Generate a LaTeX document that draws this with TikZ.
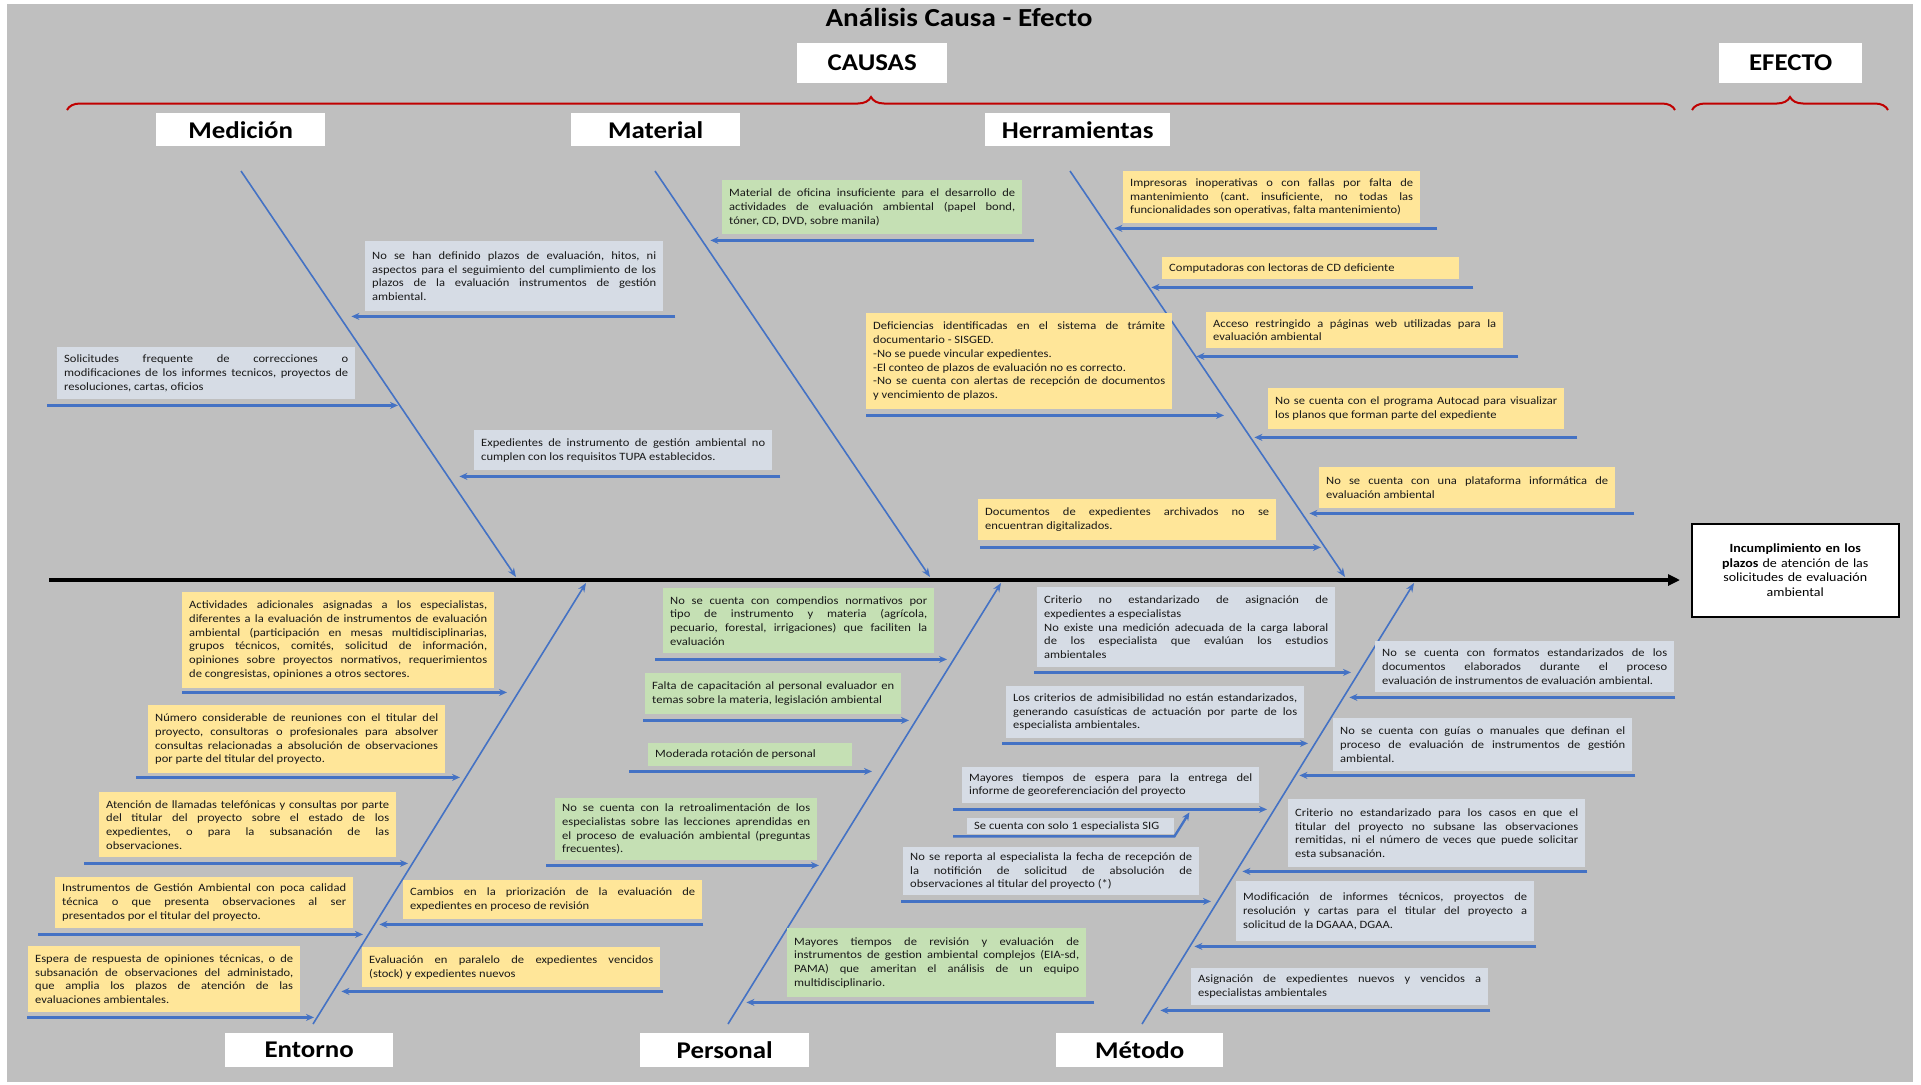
\documentclass[tikz,border=0pt]{standalone}
\usepackage{fontspec}
\setmainfont{Carlito}[FakeStretch=1.12]
\usetikzlibrary{arrows.meta,decorations.pathreplacing}

\definecolor{bggray}{RGB}{191,191,191}
\definecolor{boxyellow}{RGB}{255,230,153}
\definecolor{boxgreen}{RGB}{197,224,180}
\definecolor{boxblue}{RGB}{214,220,229}
\definecolor{boneblue}{RGB}{68,114,196}
\definecolor{bracered}{RGB}{192,0,0}

\frenchspacing
\newcommand\causefont{\fontsize{11.2}{13.7}\selectfont\hyphenpenalty=10000\exhyphenpenalty=10000\tolerance=10000}

\begin{document}
\begin{tikzpicture}[x=1pt, y=-1pt,
    cause/.style={anchor=north west, inner xsep=7pt, inner ysep=3pt, align=justify, font=\causefont, text=black!90},
    ycause/.style={cause, fill=boxyellow},
    gcause/.style={cause, fill=boxgreen},
    bcause/.style={cause, fill=boxblue},
    catlabel/.style={anchor=north west, fill=white, inner sep=0pt, font=\bfseries\fontsize{24}{28}\selectfont},
    bone/.style={draw=boneblue, line width=1.6pt, -{Stealth[length=9pt,width=7pt]}},
    branch/.style={draw=boneblue, line width=2.4pt, -{Stealth[length=8pt,width=7pt]}},
    spine/.style={draw=black, line width=3.5pt, -{Triangle[length=12pt,width=11pt]}},
    redbrace/.style={draw=bracered, line width=2pt, decorate, decoration={brace, amplitude=13pt}}]

    \useasboundingbox (0,0) rectangle (1921,1084);
    \fill[bggray] (7,4) rectangle (1913,1082);

    % titles and braces
    \node[font=\bfseries\fontsize{26}{30}\selectfont] (titulo) at (959,17) {Análisis Causa - Efecto};
    \node[catlabel, minimum width=150pt, minimum height=40pt] (causas) at (797,43) {CAUSAS};
    \node[catlabel, minimum width=143pt, minimum height=40pt] (efectolbl) at (1719,43) {EFECTO};
    \draw[redbrace] (67,110) -- (1675,110);
    \draw[redbrace] (1692,110) -- (1888,110);

    \node[catlabel, minimum width=169pt, minimum height=33pt] (medicion) at (156,113) {Medición};
    \node[catlabel, minimum width=169pt, minimum height=33pt] (material) at (571,113) {Material};
    \node[catlabel, minimum width=185pt, minimum height=33pt] (herram) at (985,113) {Herramientas};
    \node[catlabel, minimum width=168pt, minimum height=34pt] (entorno) at (225,1033) {Entorno};
    \node[catlabel, minimum width=169pt, minimum height=34pt] (personal) at (640,1033) {Personal};
    \node[catlabel, minimum width=167pt, minimum height=34pt] (metodo) at (1056,1033) {Método};

    % effect and spine
    \node[anchor=north west, draw=black, line width=1.5pt, fill=white, minimum width=207pt, minimum height=93pt,
          text width=190pt, align=center, font=\fontsize{12.5}{14.7}\selectfont] (efecto) at (1691,523)
          {\textbf{Incumplimiento en los}\\ \textbf{plazos} de atención de las\\ solicitudes de evaluación\\ ambiental};
    \coordinate (cola) at (49,580);
    \draw[spine] (cola) -- ([xshift=-11pt]cola -| efecto.west);

    % bones
    \coordinate (medA) at (241,171);  \coordinate (medB) at (516,577);
    \coordinate (matA) at (655,171);  \coordinate (matB) at (930,577);
    \coordinate (herA) at (1070,171); \coordinate (herB) at (1345,577);
    \coordinate (entA) at (313,1024); \coordinate (entB) at (586,583);
    \coordinate (perA) at (728,1024); \coordinate (perB) at (1001,583);
    \coordinate (metA) at (1142,1024); \coordinate (metB) at (1414,583);
    \foreach \a/\b in {medA/medB, matA/matB, herA/herB, entA/entB, perA/perB, metA/metB}
        \draw[bone] (\a) -- (\b);

    % Medicion
    \node[bcause, text width=284pt, minimum height=70pt] (m1) at (365,241) {No se han definido plazos de evaluación, hitos, ni\linebreak aspectos para el seguimiento del cumplimiento de los\linebreak plazos de la evaluación instrumentos de gestión\linebreak ambiental.};
    \node[bcause, text width=284pt, minimum height=52pt] (m2) at (57,347) {Solicitudes frequente de correcciones o\linebreak modificaciones de los informes tecnicos, proyectos de\linebreak resoluciones, cartas, oficios};
    \node[bcause, text width=284pt, minimum height=40pt] (m3) at (474,430) {Expedientes de instrumento de gestión ambiental no\linebreak cumplen con los requisitos TUPA establecidos.};
    \draw[branch] ([shift={(12,5)}]m1.south east) -- ++(-324,0);
    \draw[branch] ([shift={(-10,6)}]m2.south west) -- ++(351,0);
    \draw[branch] ([shift={(8,6)}]m3.south east) -- ++(-321,0);

    % Material
    \node[gcause, text width=286pt, minimum height=54pt] (t1) at (722,180) {Material de oficina insuficiente para el desarrollo de\linebreak actividades de evaluación ambiental (papel bond,\linebreak tóner, CD, DVD, sobre manila)};
    \draw[branch] ([shift={(12,6)}]t1.south east) -- ++(-324,0);

    % Herramientas
    \node[ycause, text width=283pt, minimum height=52pt] (h1) at (1123,171) {Impresoras inoperativas o con fallas por falta de\linebreak mantenimiento (cant. insuficiente, no todas las\linebreak funcionalidades son operativas, falta mantenimiento)};
    \node[ycause, text width=283pt, minimum height=22pt] (h2) at (1162,257) {Computadoras con lectoras de CD deficiente};
    \node[ycause, text width=283pt, minimum height=36pt] (h3) at (1206,312) {Acceso restringido a páginas web utilizadas para la\linebreak evaluación ambiental};
    \node[ycause, text width=282pt, minimum height=41pt] (h4) at (1268,388) {No se cuenta con el programa Autocad para visualizar\linebreak los planos que forman parte del expediente};
    \node[ycause, text width=282pt, minimum height=41pt] (h5) at (1319,467) {No se cuenta con una plataforma informática de\linebreak evaluación ambiental};
    \node[ycause, text width=292pt, minimum height=96pt] (h6) at (866,313) {Deficiencias identificadas en el sistema de trámite\linebreak documentario - SISGED.\\ -No se puede vincular expedientes.\\ -El conteo de plazos de evaluación no es correcto.\\ -No se cuenta con alertas de recepción de documentos\linebreak y vencimiento de plazos.};
    \node[ycause, text width=284pt, minimum height=41pt] (h7) at (978,499) {Documentos de expedientes archivados no se\linebreak encuentran digitalizados.};
    \draw[branch] ([shift={(17,5)}]h1.south east) -- ++(-323,0);
    \draw[branch] ([shift={(14,8)}]h2.south east) -- ++(-322,0);
    \draw[branch] ([shift={(15,8)}]h3.south east) -- ++(-322,0);
    \draw[branch] ([shift={(13,8)}]h4.south east) -- ++(-323,0);
    \draw[branch] ([shift={(19,5)}]h5.south east) -- ++(-325,0);
    \draw[branch] ([shift={(0,6)}]h6.south west) -- ++(358,0);
    \draw[branch] ([shift={(2,7)}]h7.south west) -- ++(341,0);

    % Entorno
    \node[ycause, text width=298pt, minimum height=96pt] (e1) at (182,592) {Actividades adicionales asignadas a los especialistas,\linebreak diferentes a la evaluación de instrumentos de evaluación\linebreak ambiental (participación en mesas multidisciplinarias,\linebreak grupos técnicos, comités, solicitud de información,\linebreak opiniones sobre proyectos normativos, requerimientos\linebreak de congresistas, opiniones a otros sectores.};
    \node[ycause, text width=283pt, minimum height=68pt] (e2) at (148,705) {Número considerable de reuniones con el titular del\linebreak proyecto, consultoras o profesionales para absolver\linebreak consultas relacionadas a absolución de observaciones\linebreak por parte del titular del proyecto.};
    \node[ycause, text width=283pt, minimum height=65pt] (e3) at (99,792) {Atención de llamadas telefónicas y consultas por parte\linebreak del titular del proyecto sobre el estado de los\linebreak expedientes, o para la subsanación de las\linebreak observaciones.};
    \node[ycause, text width=284pt, minimum height=51pt] (e4) at (55,877) {Instrumentos de Gestión Ambiental con poca calidad\linebreak técnica o que presenta observaciones al ser\linebreak presentados por el titular del proyecto.};
    \node[ycause, text width=258pt, minimum height=66pt] (e5) at (28,946) {Espera de respuesta de opiniones técnicas, o de\linebreak subsanación de observaciones del administado,\linebreak que amplia los plazos de atención de las\linebreak evaluaciones ambientales.};
    \node[ycause, text width=285pt, minimum height=39pt] (e6) at (403,880) {Cambios en la priorización de la evaluación de\linebreak expedientes en proceso de revisión};
    \node[ycause, text width=284pt, minimum height=40pt] (e7) at (362,947) {Evaluación en paralelo de expedientes vencidos\linebreak (stock) y expedientes nuevos};
    \draw[branch] ([shift={(0,4)}]e1.south west) -- ++(325,0);
    \draw[branch] ([shift={(-12,4)}]e2.south west) -- ++(324,0);
    \draw[branch] ([shift={(-15,6)}]e3.south west) -- ++(324,0);
    \draw[branch] ([shift={(-17,6)}]e4.south west) -- ++(325,0);
    \draw[branch] ([shift={(-1,5)}]e5.south west) -- ++(287,0);
    \draw[branch] ([shift={(1,5)}]e6.south east) -- ++(-324,0);
    \draw[branch] ([shift={(3,4)}]e7.south east) -- ++(-322,0);

    % Personal
    \node[gcause, text width=257pt, minimum height=65pt] (p1) at (663,588) {No se cuenta con compendios normativos por\linebreak tipo de instrumento y materia (agrícola,\linebreak pecuario, forestal, irrigaciones) que faciliten la\linebreak evaluación};
    \node[gcause, text width=242pt, minimum height=41pt] (p2) at (645,673) {Falta de capacitación al personal evaluador en\linebreak temas sobre la materia, legislación ambiental};
    \node[gcause, text width=190pt, minimum height=23pt] (p3) at (648,743) {Moderada rotación de personal};
    \node[gcause, text width=248pt, minimum height=62pt] (p4) at (555,798) {No se cuenta con la retroalimentación de los\linebreak especialistas sobre las lecciones aprendidas en\linebreak el proceso de evaluación ambiental (preguntas\linebreak frecuentes).};
    \node[gcause, text width=285pt, minimum height=69pt] (p5) at (787,928) {Mayores tiempos de revisión y evaluación de\linebreak instrumentos de gestion ambiental complejos (EIA-sd,\linebreak PAMA) que ameritan el análisis de un equipo\linebreak multidisciplinario.};
    \draw[branch] ([shift={(-8,6)}]p1.south west) -- ++(292,0);
    \draw[branch] ([shift={(-2,6)}]p2.south west) -- ++(266,0);
    \draw[branch] ([shift={(-19,5)}]p3.south west) -- ++(243,0);
    \draw[branch] ([shift={(-9,5)}]p4.south west) -- ++(273,0);
    \draw[branch] ([shift={(8,5)}]p5.south east) -- ++(-348,0);

    % Metodo
    \node[bcause, text width=284pt, minimum height=80pt] (k1) at (1037,587) {Criterio no estandarizado de asignación de\linebreak expedientes a especialistas\\ No existe una medición adecuada de la carga laboral\linebreak de los especialista que evalúan los estudios\linebreak ambientales};
    \node[bcause, text width=284pt, minimum height=52pt] (k2) at (1006,686) {Los criterios de admisibilidad no están estandarizados,\linebreak generando casuísticas de actuación por parte de los\linebreak especialista ambientales.};
    \node[bcause, text width=283pt, minimum height=36pt] (k3) at (962,767) {Mayores tiempos de espera para la entrega del\linebreak informe de georeferenciación del proyecto};
    \node[bcause, text width=193pt, minimum height=16pt, inner ysep=2pt] (k4) at (967,818) {Se cuenta con solo 1 especialista SIG};
    \node[bcause, text width=282pt, minimum height=48pt] (k5) at (903,847) {No se reporta al especialista la fecha de recepción de\linebreak la notifición de solicitud de absolución de\linebreak observaciones al titular del proyecto (*)};
    \node[bcause, text width=285pt, minimum height=51pt] (k6) at (1375,641) {No se cuenta con formatos estandarizados de los\linebreak documentos elaborados durante el proceso\linebreak evaluación de instrumentos de evaluación ambiental.};
    \node[bcause, text width=285pt, minimum height=53pt] (k7) at (1333,718) {No se cuenta con guías o manuales que definan el\linebreak proceso de evaluación de instrumentos de gestión\linebreak ambiental.};
    \node[bcause, text width=283pt, minimum height=68pt] (k8) at (1288,799) {Criterio no estandarizado para los casos en que el\linebreak titular del proyecto no subsane las observaciones\linebreak remitidas, ni el número de veces que puede solicitar\linebreak esta subsanación.};
    \node[bcause, text width=284pt, minimum height=60pt] (k9) at (1236,881) {Modificación de informes técnicos, proyectos de\linebreak resolución y cartas para el titular del proyecto a\linebreak solicitud de la DGAAA, DGAA.};
    \node[bcause, text width=283pt, minimum height=37pt] (k10) at (1191,968) {Asignación de expedientes nuevos y vencidos a\linebreak especialistas ambientales};
    \draw[branch] ([shift={(-3,5)}]k1.south west) -- ++(317,0);
    \draw[branch] ([shift={(-4,5)}]k2.south west) -- ++(306,0);
    \draw[branch] ([shift={(-9,6)}]k3.south west) -- ++(314,0);
    \draw[branch] ([shift={(-14,2)}]k4.south west) -- ([shift={(0,2)}]k4.south east) -- ([shift={(15,-22)}]k4.south east);
    \draw[branch] ([shift={(-2,6)}]k5.south west) -- ++(310,0);
    \draw[branch] ([shift={(1,5)}]k6.south east) -- ++(-326,0);
    \draw[branch] ([shift={(3,4)}]k7.south east) -- ++(-336,0);
    \draw[branch] ([shift={(2,4)}]k8.south east) -- ++(-345,0);
    \draw[branch] ([shift={(2,5)}]k9.south east) -- ++(-342,0);
    \draw[branch] ([shift={(2,5)}]k10.south east) -- ++(-330,0);
\end{tikzpicture}
\end{document}
